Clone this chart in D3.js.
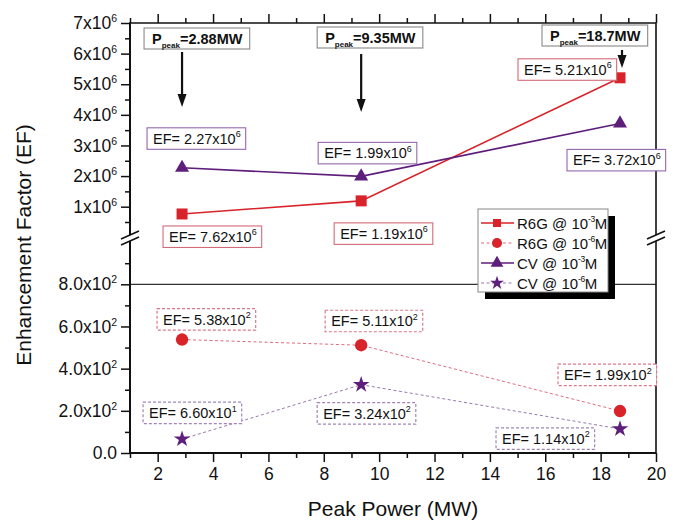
<!DOCTYPE html>
<html><head><meta charset="utf-8">
<script src="https://cdn.jsdelivr.net/npm/d3@7"></script>
<style>body{margin:0;background:#fff}svg{display:block;font-family:"Liberation Sans",Arial,sans-serif}</style>
</head><body><svg id="c" width="675" height="523"></svg>
<script>
// ---------- data ----------
const power = [2.88, 9.35, 18.7];
const r6g3 = [0.762e6, 1.19e6, 5.21e6];   // R6G @ 10^-3 M
const cv3  = [2.27e6, 1.99e6, 3.72e6];    // CV  @ 10^-3 M
const r6g6 = [538, 511, 199];             // R6G @ 10^-6 M
const cv6  = [66, 324, 114];              // CV  @ 10^-6 M
const r6g3Labels = [["7.62","6"],["1.19","6"],["5.21","6"]];
const cv3Labels  = [["2.27","6"],["1.99","6"],["3.72","6"]];
const r6g6Labels = [["5.38","2"],["5.11","2"],["1.99","2"]];
const cv6Labels  = [["6.60","1"],["3.24","2"],["1.14","2"]];
const peakLabels = ["=2.88MW","=9.35MW","=18.7MW"];
const xTicks = [2,4,6,8,10,12,14,16,18,20];
const yTopTicks = [1e6,2e6,3e6,4e6,5e6,6e6,7e6];
const yBotTicks = [0,200,400,600,800];
const legendNames = [["R6G @ 10","-3"],["R6G @ 10","-6"],["CV @ 10","-3"],["CV @ 10","-6"]];

// ---------- layout ----------
const L=130, R=656, T=23, B=453, BRK=238;
const RED="#d8232a", PURPLE="#5e1e7c";
const svg=d3.select("#c");
const x=d3.scaleLinear().domain([1,20]).range([L,R]);
const yT=d3.scaleLinear().domain([0,7e6]).range([237.3,T]);
const yB=d3.scaleLinear().domain([0,800]).range([B,284.3]);

function sup(sel, base, s, fs, dy){
  sel.text(null);
  sel.append("tspan").text(base);
  sel.append("tspan").attr("font-size",fs).attr("dy",dy!=null?dy:-fs*0.75).text(s);
}

// horizontal line at 800
svg.append("line").attr("x1",L).attr("x2",R).attr("y1",yB(800)).attr("y2",yB(800))
  .attr("stroke","#333").attr("stroke-width",1.3);

// axes
const gx=svg.append("g").attr("transform",`translate(0,${B})`)
  .call(d3.axisBottom(x).tickValues(xTicks).tickSize(9).tickSizeOuter(0).tickPadding(6));
gx.selectAll("text").attr("font-size",17.5).attr("fill","#111");
svg.append("g").attr("transform",`translate(0,${B})`)
  .call(d3.axisBottom(x).tickValues(d3.range(1,20,2)).tickSize(5).tickSizeOuter(0).tickFormat(""));
svg.append("g").attr("transform",`translate(0,${T})`)
  .call(d3.axisTop(x).tickValues(xTicks).tickSize(9).tickSizeOuter(0).tickFormat(""));
svg.append("g").attr("transform",`translate(0,${T})`)
  .call(d3.axisTop(x).tickValues(d3.range(1,20,2)).tickSize(5).tickSizeOuter(0).tickFormat(""));

const gyt=svg.append("g").attr("transform",`translate(${L},0)`)
  .call(d3.axisLeft(yT).tickValues(yTopTicks).tickSize(9).tickSizeOuter(0).tickPadding(4));
gyt.selectAll("text").attr("font-size",17.5).attr("fill","#111")
  .each(function(d){ sup(d3.select(this), (d/1e6)+"x10", "6", 10.5, -7); });
svg.append("g").attr("transform",`translate(${L},0)`)
  .call(d3.axisLeft(yT).tickValues(d3.range(0.5e6,7e6,1e6)).tickSize(5).tickSizeOuter(0).tickFormat(""));

const gyb=svg.append("g").attr("transform",`translate(${L},0)`)
  .call(d3.axisLeft(yB).tickValues(yBotTicks).tickSize(9).tickSizeOuter(0).tickPadding(4));
gyb.selectAll("text").attr("font-size",17.5).attr("fill","#111")
  .each(function(d){ if(d===0){d3.select(this).text("0.0");} else sup(d3.select(this), (d/100).toFixed(1)+"x10", "2", 10.5, -7); });
svg.append("g").attr("transform",`translate(${L},0)`)
  .call(d3.axisLeft(yB).tickValues([100,300,500,700,900]).tickSize(5).tickSizeOuter(0).tickFormat(""));

svg.selectAll(".domain").remove();
svg.selectAll(".tick line").attr("stroke","#111").attr("stroke-width",1.5);

// frame
const fr=svg.append("g").attr("stroke","#111").attr("fill","none");
fr.append("line").attr("x1",L).attr("x2",L).attr("y1",T).attr("y2",BRK-3).attr("stroke-width",2);
fr.append("line").attr("x1",L).attr("x2",L).attr("y1",BRK+3).attr("y2",B+1).attr("stroke-width",2);
fr.append("line").attr("x1",L-1).attr("x2",R).attr("y1",B).attr("y2",B).attr("stroke-width",2);
fr.append("line").attr("x1",L-1).attr("x2",R).attr("y1",T).attr("y2",T).attr("stroke-width",1.6);
fr.append("line").attr("x1",R).attr("x2",R).attr("y1",T).attr("y2",BRK-3).attr("stroke-width",1.6);
fr.append("line").attr("x1",R).attr("x2",R).attr("y1",BRK+3).attr("y2",B).attr("stroke-width",1.6);
[L,R].forEach(xx=>{
  [-3,3].forEach(o=>{
    fr.append("line").attr("x1",xx-9).attr("x2",xx+9).attr("y1",BRK+o+4).attr("y2",BRK+o-4).attr("stroke-width",1.5);
  });
});

// axis titles
svg.append("text").attr("x",393).attr("y",516).attr("text-anchor","middle").attr("font-size",21).attr("fill","#111").text("Peak Power (MW)");
svg.append("text").attr("transform","translate(31,245) rotate(-90)").attr("text-anchor","middle").attr("font-size",21).attr("fill","#111").text("Enhancement Factor (EF)");

// series lines
const series=[
  {v:r6g3,y:yT,c:RED,dash:null,w:1.6,sym:d3.symbolSquare,size:121,ls:64},
  {v:r6g6,y:yB,c:RED,dash:"3,2.5",w:1,sym:d3.symbolCircle,size:120,ls:80,lc:"#e06a80"},
  {v:cv3,y:yT,c:PURPLE,dash:null,w:1.6,sym:d3.symbolTriangle,size:85,ls:70},
  {v:cv6,y:yB,c:PURPLE,dash:"3,2.5",w:1,sym:d3.symbolStar,size:85,ls:60,lc:"#9a78b0"}
];
series.forEach(s=>{
  const line=d3.line().x((d,i)=>x(power[i])).y(d=>s.y(d));
  svg.append("path").attr("d",line(s.v)).attr("fill","none").attr("stroke",s.lc||s.c)
    .attr("stroke-width",s.w).attr("stroke-dasharray",s.dash);
});
series.forEach(s=>{
  svg.selectAll(null).data(s.v).enter().append("path")
    .attr("d",d3.symbol().type(s.sym).size(s.size))
    .attr("transform",(d,i)=>`translate(${x(power[i])},${s.y(d)})`)
    .attr("fill",s.c);
});

// EF annotation boxes
function annot(vals, ys, labels, offs, border, dashed){
  vals.forEach((v,i)=>{
    const bx=x(power[i])+offs[i][0], by=ys(v)+offs[i][1];
    const g=svg.append("g");
    const r=g.append("rect").attr("fill","#fff").attr("stroke",border).attr("stroke-width",dashed?1.2:1.1)
      .attr("stroke-dasharray",dashed?"3,2":null);
    const t=g.append("text").attr("x",bx+6).attr("y",by+16).attr("font-size",14.5).attr("fill","#111");
    sup(t,"EF= "+labels[i][0]+"x10",labels[i][1],9,-6.5);
    const bb=t.node().getBBox();
    r.attr("x",bx).attr("y",by).attr("width",bb.width+11).attr("height",21.5);
  });
}
annot(cv3,yT,cv3Labels,[[-35,-40],[-43,-34],[-53,26]],"#9468ad",false);
annot(r6g3,yT,r6g3Labels,[[-19,12],[-27,22],[-102,-19]],"#d36a78",false);
annot(r6g6,yB,r6g6Labels,[[-25,-31],[-36,-35],[-62,-47]],"#d9788a",true);
annot(cv6,yB,cv6Labels,[[-39,-37],[-44,18],[-124,-1]],"#a284b8",true);

// Ppeak boxes and arrows
const peakOff=[[-38,28,52,107],[-44,27,54,112],[-78,25,50,68]];
power.forEach((p,i)=>{
  const px=x(p), o=peakOff[i];
  const g=svg.append("g");
  const r=g.append("rect").attr("fill","#fff").attr("stroke","#888").attr("stroke-width",1.1);
  const t=g.append("text").attr("x",px+o[0]+8).attr("y",o[1]+16).attr("font-size",14.5).attr("font-weight","bold").attr("fill","#111");
  t.append("tspan").text("P");
  t.append("tspan").attr("font-size",8).attr("dy",4).text("peak");
  t.append("tspan").attr("dy",-4).text(peakLabels[i]);
  const bb=t.node().getBBox();
  r.attr("x",px+o[0]).attr("y",o[1]).attr("width",bb.width+15).attr("height",21);
  const ax=px+(i===2?2:0);
  svg.append("line").attr("x1",ax).attr("x2",ax).attr("y1",o[2]).attr("y2",o[3]-10).attr("stroke","#111").attr("stroke-width",2.2);
  svg.append("path").attr("d",`M${ax-4.5},${o[3]-13} L${ax+4.5},${o[3]-13} L${ax},${o[3]} Z`).attr("fill","#111");
});

// legend
const lx=478, ly=209, lw=130, lh=83;
svg.append("rect").attr("x",lx+7).attr("y",ly+7).attr("width",lw).attr("height",lh).attr("fill","#000");
svg.append("rect").attr("x",lx).attr("y",ly).attr("width",lw).attr("height",lh).attr("fill","#fff").attr("stroke","#888").attr("stroke-width",1);
series.forEach((s,i)=>{
  const yy=ly+14+i*20;
  svg.append("line").attr("x1",lx+3).attr("x2",lx+36).attr("y1",yy).attr("y2",yy)
    .attr("stroke",s.lc||s.c).attr("stroke-width",s.w).attr("stroke-dasharray",s.dash);
  svg.append("path").attr("d",d3.symbol().type(s.sym).size(s.ls)).attr("transform",`translate(${lx+19},${yy})`).attr("fill",s.c);
  const t=svg.append("text").attr("x",lx+39).attr("y",yy+6).attr("font-size",15).attr("fill","#111").attr("textLength",null);
  t.append("tspan").text(legendNames[i][0]);
  t.append("tspan").attr("font-size",8.5).attr("dy",-7).attr("letter-spacing",-0.5).text(legendNames[i][1]);
  t.append("tspan").attr("dy",7).text("M");
});
</script></body></html>
